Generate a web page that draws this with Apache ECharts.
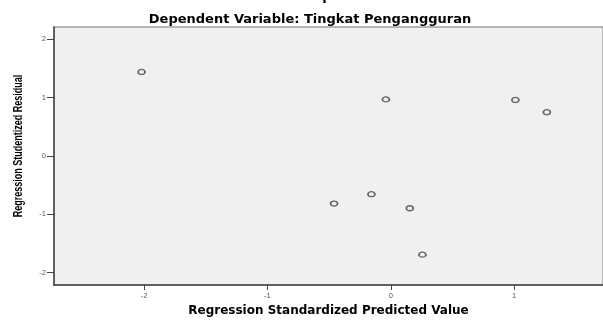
<!DOCTYPE html>
<html>
<head>
<meta charset="utf-8">
<script src="https://cdn.jsdelivr.net/npm/echarts@6/dist/echarts.min.js"></script>
<style>
  html, body { margin: 0; padding: 0; background: #fff; }
  #chart { width: 603px; height: 320px; }
</style>
</head>
<body>
<div id="chart"></div>
<script>
  // 数据
  const predicted = [-2.02, -0.04, 1.01, 1.265, -0.46, -0.157, 0.154, 0.256];
  const residual = [1.44, 0.97, 0.96, 0.75, -0.815, -0.655, -0.895, -1.69];
  const xTicks = [-2, -1, 0, 1];
  const yTicks = [-2, -1, 0, 1, 2];

  const points = predicted.map((v, i) => [v, residual[i]]);

  const myChart = echarts.init(document.getElementById("chart"));

  const titleFont = { fontFamily: "DejaVu Sans", fontSize: 13, fontWeight: "bold", color: "#000" };
  const tickFont = { fontFamily: "Liberation Sans", fontSize: 7.5, color: "#555" };

  const option = {
    animation: false,
    title: [
      {
        text: "Scatterplot",
        left: 305, top: -15, textAlign: "center",
        textStyle: titleFont
      },
      {
        text: "Dependent Variable: Tingkat Pengangguran",
        left: 305, top: 8, textAlign: "center",
        textStyle: titleFont
      }
    ],
    graphic: [
      {
        type: "text",
        x: 19, y: 146, rotation: Math.PI / 2,
        scaleX: 0.75,
        style: {
          text: "Regression Studentized Residual",
          fontFamily: "Liberation Sans",
          fontSize: 12, fontWeight: "bold", fill: "#000",
          align: "center", verticalAlign: "middle"
        }
      }
    ],
    grid: {
      left: 54, top: 27, right: 0, bottom: 35,
      outerBoundsMode: "none",
      show: true,
      backgroundColor: "#f0f0f0",
      borderColor: "#a0a0a0",
      borderWidth: 1.5
    },
    xAxis: {
      type: "value",
      min: -2.73, max: 1.72,
      name: "Regression Standardized Predicted Value",
      nameLocation: "middle",
      nameGap: 20,
      nameTextStyle: { fontFamily: "DejaVu Sans", fontSize: 12, fontWeight: "bold", color: "#000" },
      splitLine: { show: false },
      axisLine: { onZero: false, lineStyle: { color: "#444", width: 1.5 } },
      axisTick: { customValues: xTicks, length: 5, lineStyle: { color: "#444" } },
      axisLabel: Object.assign({ customValues: xTicks, margin: 7 }, tickFont)
    },
    yAxis: {
      type: "value",
      min: -2.21, max: 2.21,
      splitLine: { show: false },
      axisLine: { onZero: false, lineStyle: { color: "#444", width: 1.5 } },
      axisTick: { customValues: yTicks, length: 7, lineStyle: { color: "#444" } },
      axisLabel: Object.assign({ customValues: yTicks, margin: 8 }, tickFont)
    },
    series: [
      {
        type: "scatter",
        symbol: "circle",
        symbolSize: [7, 5],
        itemStyle: { color: "#f0f0f0", borderColor: "#444", borderWidth: 1.5 },
        data: points
      }
    ]
  };

  myChart.setOption(option);
</script>
</body>
</html>
